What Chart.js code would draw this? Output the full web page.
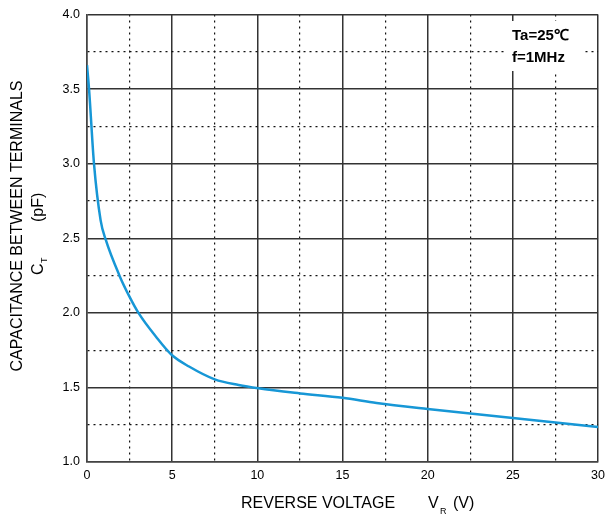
<!DOCTYPE html>
<html>
<head>
<meta charset="utf-8">
<script src="https://cdn.jsdelivr.net/npm/chart.js@4"></script>
<style>
  html, body { margin: 0; padding: 0; background: #fff; }
  #wrap { width: 611px; height: 515px; }
</style>
</head>
<body>
<div id="wrap"><canvas id="grafic" width="611" height="515"></canvas></div>
<script>
// valors llegits del gràfic
const tensions = [0, 0.12, 0.41, 0.8, 1.1, 1.92, 2.5, 3.04, 4.05, 4.98, 5.99, 7.5, 8.9, 10.06, 12.5, 15, 17, 20, 25, 30];
const capacitats = [3.66, 3.5, 3.0, 2.62, 2.49, 2.246, 2.107, 1.996, 1.84, 1.717, 1.64, 1.554, 1.516, 1.494, 1.46, 1.43, 1.395, 1.355, 1.295, 1.235];
const xTicks = [0, 5, 10, 15, 20, 25, 30];
const yTicks = [1.0, 1.5, 2.0, 2.5, 3.0, 3.5, 4.0];
const notes = ['Ta=25\u2103', 'f=1MHz'];

const FONT = 'Arial, "Liberation Sans", sans-serif';

const esMajor = (v, pas) => Math.abs(v / pas - Math.round(v / pas)) < 1e-6;

// caixa blanca de condicions (abans de la línia, després de la graella)
const caixa = {
  id: 'caixa',
  beforeDatasetsDraw(chart) {
    const c = chart.ctx;
    c.save();
    c.fillStyle = '#fff';
    c.fillRect(505, 21, 77, 50);
    c.fillStyle = '#000';
    c.font = 'bold 15px ' + FONT;
    c.textAlign = 'left';
    c.textBaseline = 'alphabetic';
    notes.forEach((t, i) => c.fillText(t, 512, 40 + i * 22));
    c.restore();
  }
};

// títols dels eixos amb subíndex
const titols = {
  id: 'titols',
  afterDraw(chart) {
    const c = chart.ctx;
    c.save();
    c.fillStyle = '#000';
    c.textBaseline = 'alphabetic';

    // títol eix X
    c.textAlign = 'left';
    c.font = '16px ' + FONT;
    c.fillText('REVERSE VOLTAGE', 241, 508);
    c.fillText('V', 428, 508);
    c.fillText('(V)', 453, 508);
    c.font = '9px ' + FONT;
    c.fillText('R', 440, 514);

    // títol eix Y (girat)
    c.save();
    c.translate(22, 226);
    c.rotate(-Math.PI / 2);
    c.textAlign = 'center';
    c.font = '16px ' + FONT;
    c.fillText('CAPACITANCE BETWEEN TERMINALS', 0, 0);
    c.restore();

    c.save();
    c.translate(43, 275);
    c.rotate(-Math.PI / 2);
    c.textAlign = 'left';
    c.font = '16px ' + FONT;
    c.fillText('C', 0, 0);
    c.fillText('(pF)', 53, 0);
    c.font = '9px ' + FONT;
    c.fillText('T', 12, 4);
    c.restore();

    c.restore();
  }
};

new Chart(document.getElementById('grafic'), {
  type: 'line',
  data: {
    datasets: [{
      data: tensions.map((v, i) => ({ x: v, y: capacitats[i] })),
      borderColor: '#1797d6',
      borderWidth: 2.5,
      pointRadius: 0,
      cubicInterpolationMode: 'monotone',
      fill: false
    }]
  },
  options: {
    responsive: false,
    animation: false,
    layout: { padding: { top: 14, right: 0, left: 0, bottom: 0 } },
    plugins: {
      legend: { display: false },
      tooltip: { enabled: false }
    },
    scales: {
      x: {
        type: 'linear',
        min: 0,
        max: 30,
        afterFit: s => { s.height = 53; },
        ticks: {
          stepSize: 2.5,
          padding: 6,
          color: '#000',
          font: { family: FONT, size: 12.5 },
          callback: v => xTicks.includes(v) ? String(v) : ''
        },
        grid: {
          drawTicks: false,
          color: ctx => ctx.tick && esMajor(ctx.tick.value, 5) ? '#333' : '#111',
          lineWidth: ctx => ctx.tick && esMajor(ctx.tick.value, 5) ? 1.5 : 1.2
        },
        border: {
          color: '#444',
          width: 1.5,
          dash: ctx => ctx.tick && !esMajor(ctx.tick.value, 5) ? [2, 4] : []
        }
      },
      y: {
        type: 'linear',
        min: 1,
        max: 4,
        afterFit: s => { s.width = 87; },
        ticks: {
          stepSize: 0.25,
          padding: 7,
          color: '#000',
          font: { family: FONT, size: 12.5 },
          callback: v => yTicks.some(t => Math.abs(t - v) < 1e-6) ? v.toFixed(1) : ''
        },
        grid: {
          drawTicks: false,
          color: ctx => ctx.tick && esMajor(ctx.tick.value, 0.5) ? '#333' : '#111',
          lineWidth: ctx => ctx.tick && esMajor(ctx.tick.value, 0.5) ? 1.5 : 1.2
        },
        border: {
          color: '#444',
          width: 1.5,
          dash: ctx => ctx.tick && !esMajor(ctx.tick.value, 0.5) ? [2, 4] : []
        }
      }
    }
  },
  plugins: [caixa, titols]
});
</script>
</body>
</html>
